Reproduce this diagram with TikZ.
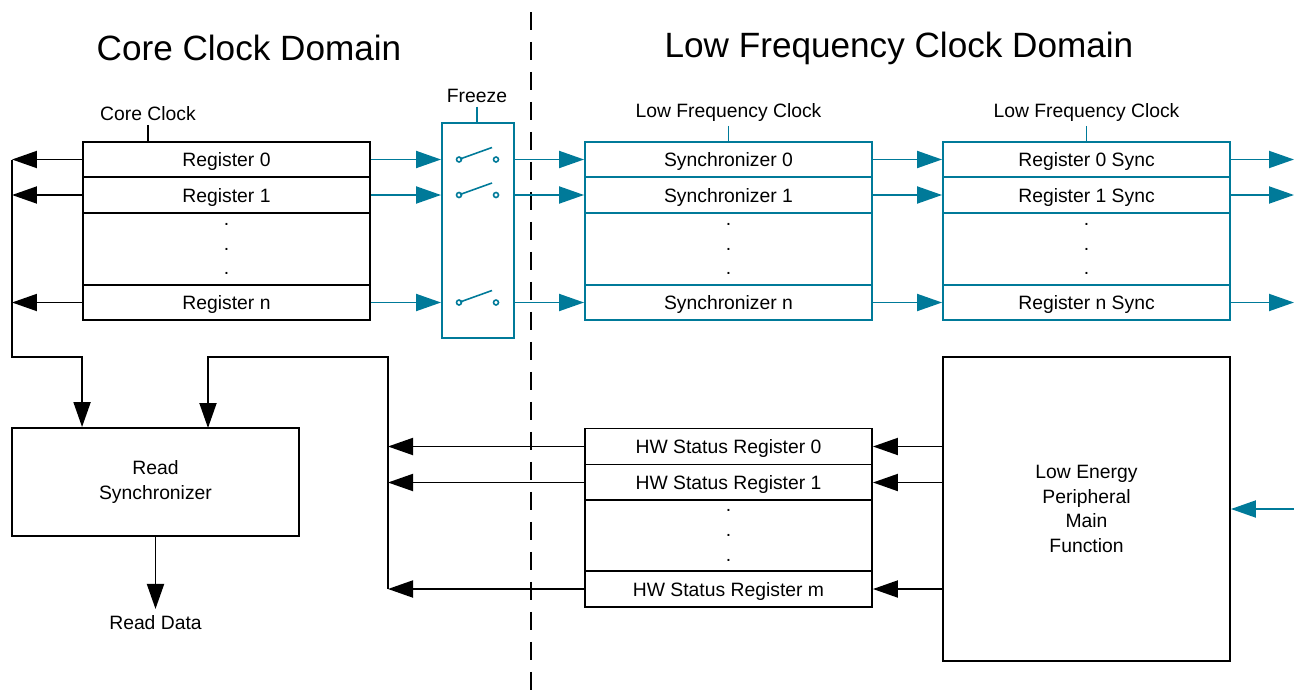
\documentclass[tikz,border=0pt]{standalone}
\usepackage{fontspec}
\setmainfont{Liberation Sans}
\usetikzlibrary{arrows.meta}

\definecolor{lfteal}{RGB}{0,122,153}

\tikzset{
  row/.style={draw, line width=1.1pt, minimum width=5.74cm, minimum height=0.71cm,
    inner sep=0pt, font=\fontsize{11}{14}\selectfont, align=center, text depth=0pt},
  dotrow/.style={row, minimum height=1.44cm},
  lfrow/.style={row, draw=lfteal},
  lfdotrow/.style={dotrow, draw=lfteal},
  blk/.style={draw, line width=1.1pt, inner sep=0pt, font=\fontsize{11}{14}\selectfont, align=center},
  lbl/.style={font=\fontsize{11}{14}\selectfont, inner sep=2pt},
  title/.style={font=\fontsize{20}{24}\selectfont},
  wire/.style={line width=1.1pt},
  arr/.style={wire, -{Triangle[length=0.5cm,width=0.34cm]}},
  tarr/.style={arr, draw=lfteal, fill=lfteal},
  twire/.style={wire, draw=lfteal}
}

\begin{document}
\begin{tikzpicture}[x=0.02cm, y=-0.02cm]

      \useasboundingbox (0,0) rectangle (1294,693);

      % Titles
      \node[title] (ttlcore) at (249,48) {Core Clock Domain};
      \node[title] (ttllf) at (899,48) {Low Frequency Clock Domain};

      % Domain border
      \coordinate (dtop) at (531,12);
      \coordinate (dbot) at (531,693);
      \draw[line width=1.2pt, dash pattern=on 0.36cm off 0.24cm] (dtop) -- (dbot);

      % Core registers
      \node[row] (c0) at (226.5,159.5) {Register 0};
      \node[row] (c1) at (226.5,195) {Register 1};
      \node[dotrow] (cd) at (226.5,249) {.\\.\\.};
      \node[row] (cn) at (226.5,302.5) {Register n};

      % Synchronizers
      \node[lfrow] (s0) at (728.5,159.5) {Synchronizer 0};
      \node[lfrow] (s1) at (728.5,195) {Synchronizer 1};
      \node[lfdotrow] (sd) at (728.5,249) {.\\.\\.};
      \node[lfrow] (sn) at (728.5,302.5) {Synchronizer n};

      % Sync registers
      \node[lfrow] (r0) at (1086.5,159.5) {Register 0 Sync};
      \node[lfrow] (r1) at (1086.5,195) {Register 1 Sync};
      \node[lfdotrow] (rd) at (1086.5,249) {.\\.\\.};
      \node[lfrow] (rn) at (1086.5,302.5) {Register n Sync};

      % Status registers
      \node[row, minimum height=0.72cm] (hw0) at (728.5,446.5) {HW Status Register 0};
      \node[row, minimum height=0.72cm] (hw1) at (728.5,482.5) {HW Status Register 1};
      \node[dotrow, minimum height=1.42cm] (hwd) at (728.5,535.5) {.\\.\\.};
      \node[row, minimum height=0.72cm] (hwm) at (728.5,589) {HW Status Register m};

      % Other blocks
      \node[blk, draw=lfteal, minimum width=1.44cm, minimum height=4.3cm] (frz) at (478,230.5) {};
      \node[blk, minimum width=5.74cm, minimum height=2.16cm] (rsync) at (155.5,482) {Read\\Synchronizer};
      \node[blk, minimum width=5.74cm, minimum height=6.08cm] (lep) at (1086.5,509) {Low Energy\\Peripheral\\Main\\Function};

      % Clock labels
      \node[lbl] (cclk) at (148,114) {Core Clock};
      \node[lbl] (frzl) at (477,96) {Freeze};
      \node[lbl] (lfclk1) at (728.5,113) {Low Frequency Clock};
      \node[lbl] (lfclk2) at (1086.5,113) {Low Frequency Clock};
      \node[lbl] (rdata) at (155.5,623) {Read Data};

      \draw[wire] (cclk.south) -- (cclk.south |- c0.north);
      \draw[twire] (frzl.south) -- (frzl.south |- frz.north);
      \draw[twire] (lfclk1.south) -- (lfclk1.south |- s0.north);
      \draw[twire] (lfclk2.south) -- (lfclk2.south |- r0.north);

      % Read back path
      \coordinate (lbus) at (12,357);
      \coordinate (rbus) at (388,357);
      \coordinate (rtap) at (208,428);
      \coordinate (redge) at (1294,509);

      \draw[arr] (c0.west) -- (c0.west -| lbus);
      \draw[arr] (c1.west) -- (c1.west -| lbus);
      \draw[arr] (cn.west) -- (cn.west -| lbus);
      \draw[arr] (lbus |- c0.west) -- (lbus) -| (c0.west |- rsync.north);

      \draw[arr] (hw0.west) -- (hw0.west -| rbus);
      \draw[arr] (hw1.west) -- (hw1.west -| rbus);
      \draw[arr] (hwm.west) -- (hwm.west -| rbus);
      \draw[arr] (rbus |- hwm.west) -- (rbus) -| (rtap);

      \draw[arr] (rsync.south) -- ++(0,72);

      \draw[arr] (hw0.east -| lep.west) -- (hw0.east);
      \draw[arr] (hw1.east -| lep.west) -- (hw1.east);
      \draw[arr] (hwm.east -| lep.west) -- (hwm.east);
      \draw[tarr] (redge) -- (lep.east);

      % Write path
      \draw[tarr] (c0.east) -- (c0.east -| frz.west);
      \draw[tarr] (c1.east) -- (c1.east -| frz.west);
      \draw[tarr] (cn.east) -- (cn.east -| frz.west);
      \draw[tarr] (s0.west -| frz.east) -- (s0.west);
      \draw[tarr] (s1.west -| frz.east) -- (s1.west);
      \draw[tarr] (sn.west -| frz.east) -- (sn.west);
      \draw[tarr] (s0.east) -- (r0.west);
      \draw[tarr] (s1.east) -- (r1.west);
      \draw[tarr] (sn.east) -- (rn.west);
      \draw[tarr] (r0.east) -- (r0.east -| redge);
      \draw[tarr] (r1.east) -- (r1.east -| redge);
      \draw[tarr] (rn.east) -- (rn.east -| redge);

      % Switches
      \foreach \r in {c0,c1,cn} {
        \coordinate (sw) at (frz.center |- \r.east);
        \draw[lfteal, line width=0.9pt] ([xshift=-0.38cm]sw) circle (0.05cm)
          ([xshift=-0.36cm,yshift=0.01cm]sw) -- ([xshift=0.28cm,yshift=0.24cm]sw)
          ([xshift=0.36cm]sw) circle (0.05cm);
      }

    \end{tikzpicture}
\end{document}
